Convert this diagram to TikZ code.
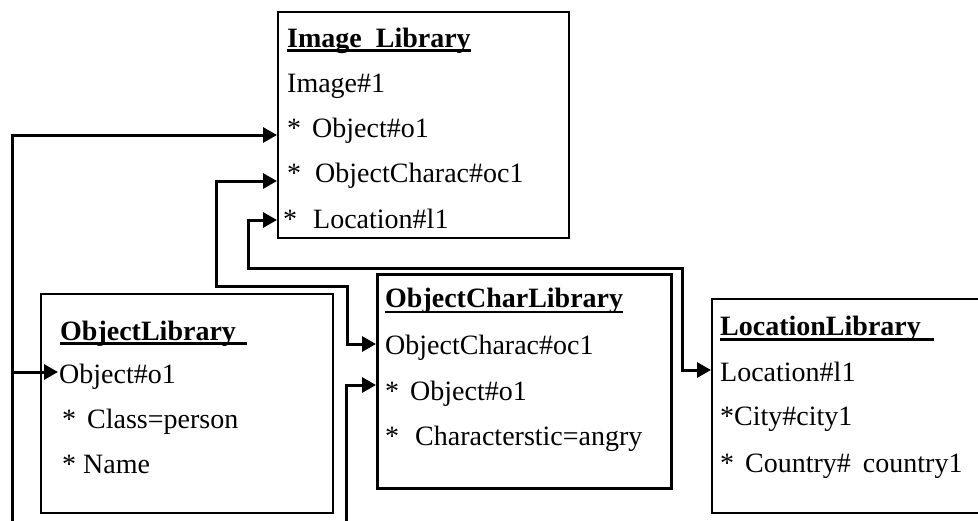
\documentclass[tikz,border=0pt]{standalone}
\usepackage{fontspec}
\setmainfont{Liberation Serif}
\usetikzlibrary{arrows.meta}
\begin{document}
\begin{tikzpicture}[x=1pt,y=-1pt,
  box/.style={draw, line width=2.1pt, anchor=north west, inner sep=0pt},
  wire/.style={line width=3pt},
  conn/.style={wire, -{Triangle[length=14pt,width=15pt]}},
  dconn/.style={wire, {Triangle[length=14pt,width=15pt]}-{Triangle[length=14pt,width=15pt]}},
  txt/.style={anchor=base west, inner sep=0pt, font=\fontsize{28}{33}\selectfont},
  ttl/.style={txt, font=\fontsize{28}{33}\selectfont\bfseries},
  ul/.style={line width=2.2pt}]
\useasboundingbox (0,0) rectangle (978,520);

% library boxes
\node[box, minimum width=291pt, minimum height=226pt] (img) at (277,11) {};
\node[box, minimum width=292pt, minimum height=219pt] (objlib) at (40,293) {};
\node[box, line width=2.6pt, minimum width=294pt, minimum height=214pt] (ocl) at (376,273) {};
\node[box, minimum width=290pt, minimum height=214pt] (loc) at (711,298) {};

% Image Library
\node[ttl] (imgT) at (287,47) {Image\ \ Library};
\node[txt] (imgA) at (287,92) {Image\#1};
\node[txt] (imgB) at (287,137) {*\hspace{11pt}Object\#o1};
\node[txt] (imgC) at (287,182) {*\hspace{14pt}ObjectCharac\#oc1};
\node[txt] (imgD) at (283,228) {*\hspace{16pt}Location\#l1};

% ObjectLibrary
\node[ttl] (objT) at (60,340) {ObjectLibrary};
\node[txt] (objA) at (59,383) {Object\#o1};
\node[txt] (objB) at (62,428) {*\hspace{11pt}Class=person};
\node[txt] (objC) at (62,473) {*\hspace{7pt}Name};

% ObjectCharLibrary
\node[ttl] (oclT) at (385,307) {ObjectCharLibrary};
\node[txt] (oclA) at (385,354) {ObjectCharac\#oc1};
\node[txt] (oclB) at (385,400) {*\hspace{11pt}Object\#o1};
\node[txt] (oclC) at (385,445) {*\hspace{16pt}Characterstic=angry};

% LocationLibrary
\node[ttl] (locT) at (720,335) {LocationLibrary};
\node[txt] (locA) at (720,381) {Location\#l1};
\node[txt] (locB) at (720,425) {*City\#city1};
\node[txt] (locC) at (720,472) {*\hspace{11pt}Country\#\hspace{12pt}country1};

% title underlines
\draw[ul] ([yshift=-3.5pt]imgT.base west) -- ([yshift=-3.5pt]imgT.base east);
\draw[ul] ([yshift=-3.5pt]objT.base west) -- ([yshift=-3.5pt,xshift=11pt]objT.base east);
\draw[ul] ([yshift=-5pt]oclT.base west) -- ([yshift=-5pt]oclT.base east);
\draw[ul] ([yshift=-4.5pt]locT.base west) -- ([yshift=-4.5pt,xshift=13pt]locT.base east);

% connector end points
\path (img.north west) ++(0,124) coordinate (img-obj);
\path (img.north west) ++(0,170) coordinate (img-occ);
\path (img.north west) ++(0,209) coordinate (img-loc);
\path (objlib.north west) ++(18,79) coordinate (obj-in);
\path (ocl.north west) ++(0,71) coordinate (ocl-occ);
\path (ocl.north west) ++(0,112) coordinate (ocl-obj);
\path (loc.north west) ++(0,72) coordinate (loc-in);

\coordinate (c1) at (12,522);
\coordinate (j1) at (12,372);
\coordinate (c2a) at (216,286);
\coordinate (c2b) at (347,344);
\coordinate (c3a) at (248,268);
\coordinate (c3b) at (682,370);
\coordinate (c4) at (346,522);

% connectors
\draw[conn] (c1) |- (img-obj);
\draw[conn] (j1) -- (obj-in);
\draw[dconn] (img-occ) -| (c2a) -| (c2b) -- (ocl-occ);
\draw[dconn] (img-loc) -| (c3a) -| (c3b) -- (loc-in);
\draw[conn] (c4) |- (ocl-obj);
\end{tikzpicture}
\end{document}
